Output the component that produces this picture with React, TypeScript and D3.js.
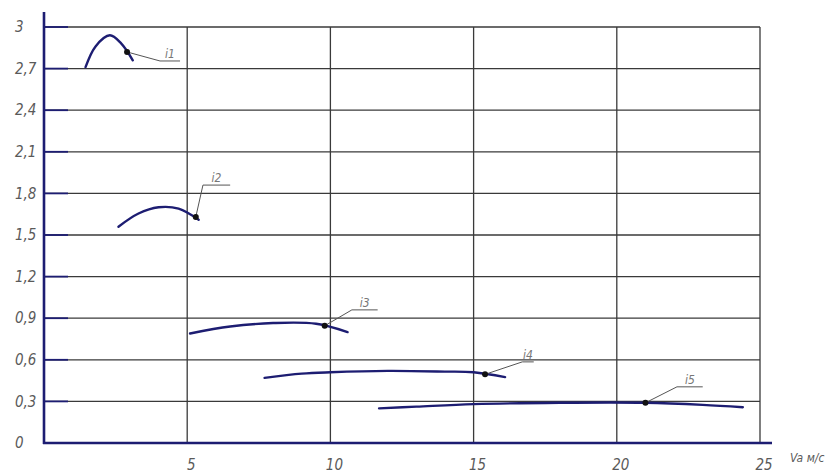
import React from 'react';
import * as d3 from 'd3';

const yTicks = [0, 0.3, 0.6, 0.9, 1.2, 1.5, 1.8, 2.1, 2.4, 2.7, 3];
const yTickLabels = ['0', '0,3', '0,6', '0,9', '1,2', '1,5', '1,8', '2,1', '2,4', '2,7', '3'];
const xTicks = [5, 10, 15, 20, 25];
const xTickLabels = ['5', '10', '15', '20', '25'];
const xAxisTitle = 'Va м/с';

// curves (V in m/s, value on y axis)
const curveNames = ['i1', 'i2', 'i3', 'i4', 'i5'];
const curveX = [
  [1.45, 1.8, 2.3, 2.7, 3.1],
  [2.6, 3.3, 4.0, 4.7, 5.4],
  [5.1, 6.5, 8.0, 9.5, 10.6],
  [7.7, 9.0, 10.0, 12.0, 14.0, 15.0, 16.1],
  [11.7, 13.0, 15.0, 18.0, 21.0, 23.0, 24.4],
];
const curveY = [
  [2.71, 2.86, 2.94, 2.88, 2.76],
  [1.56, 1.655, 1.7, 1.69, 1.61],
  [0.79, 0.84, 0.865, 0.86, 0.8],
  [0.47, 0.5, 0.51, 0.52, 0.515, 0.51, 0.475],
  [0.25, 0.262, 0.28, 0.29, 0.29, 0.275, 0.258],
];
// marker dot, leader elbow and end of the underline for each label
const dotX = [2.9, 5.3, 9.8, 15.4, 21.0];
const dotY = [2.82, 1.63, 0.845, 0.495, 0.29];
const elbowX = [4.05, 5.55, 10.75, 16.7, 22.1];
const elbowY = [2.755, 1.86, 0.96, 0.585, 0.405];
const underlineEndX = [4.75, 6.5, 11.65, 17.1, 23.0];

const W = 840;
const H = 475;
const navy = '#1d1d72';
const grid = '#3a3a3a';
const textGrey = '#5a5a5a';
const font = '"DejaVu Sans Condensed", "DejaVu Sans", sans-serif';

export default function App() {
  const x = d3.scaleLinear().domain([0, 25]).range([44, 760]);
  const y = d3.scaleLinear().domain([0, 3]).range([443, 27]);

  const lineGen = d3
    .line<[number, number]>()
    .x((d) => x(d[0]))
    .y((d) => y(d[1]))
    .curve(d3.curveCatmullRom.alpha(0.5));

  return (
    <svg
      width={W}
      height={H}
      style={{ position: 'absolute', left: 0, top: 0, background: '#fff' }}
    >
      {/* horizontal grid */}
      {yTicks.slice(1).map((t) => (
        <line key={'h' + t} x1={x(0)} x2={x(25)} y1={y(t)} y2={y(t)} stroke={grid} strokeWidth={1.3} />
      ))}
      {/* vertical grid */}
      {xTicks.map((t) => (
        <line key={'v' + t} x1={x(t)} x2={x(t)} y1={y(3)} y2={y(0)} stroke={grid} strokeWidth={1.3} />
      ))}
      {/* short heavy ticks on the y axis */}
      {yTicks.slice(1).map((t) => (
        <line key={'tk' + t} x1={x(0)} x2={x(0) + 24} y1={y(t)} y2={y(t)} stroke={navy} strokeWidth={1.8} />
      ))}

      {/* axes */}
      <line x1={x(0)} x2={x(0)} y1={12} y2={y(0) + 1} stroke={navy} strokeWidth={2.6} />
      <line x1={x(0) - 1} x2={x(25) + 12} y1={y(0)} y2={y(0)} stroke={navy} strokeWidth={2.6} />

      {/* curves */}
      {curveNames.map((name, i) => {
        const pts = curveX[i].map((v, j) => [v, curveY[i][j]] as [number, number]);
        return (
          <path
            key={name}
            d={lineGen(pts) || ''}
            fill="none"
            stroke={navy}
            strokeWidth={2.4}
            strokeLinecap="round"
          />
        );
      })}

      {/* labels with leaders */}
      {curveNames.map((name, i) => (
        <g key={'lab' + name}>
          <polyline
            points={`${x(dotX[i])},${y(dotY[i])} ${x(elbowX[i])},${y(elbowY[i])} ${x(underlineEndX[i])},${y(elbowY[i])}`}
            fill="none"
            stroke="#555"
            strokeWidth={1}
          />
          <circle cx={x(dotX[i])} cy={y(dotY[i])} r={3} fill="#111" />
          <text
            x={(x(elbowX[i]) + x(underlineEndX[i])) / 2}
            y={y(elbowY[i]) - 3}
            textAnchor="middle"
            fontFamily={font}
            fontStyle="italic"
            fontSize={12}
            fill="#777"
          >
            {name}
          </text>
        </g>
      ))}

      {/* y tick labels */}
      {yTicks.map((t, i) => (
        <text
          key={'yl' + t}
          x={15}
          y={y(t)}
          dy="0.35em"
          fontFamily={font}
          fontStyle="italic"
          fontSize={15}
          fill={textGrey}
        >
          {yTickLabels[i]}
        </text>
      ))}

      {/* x tick labels */}
      {xTicks.map((t, i) => (
        <text
          key={'xl' + t}
          x={x(t) + 4}
          y={470}
          textAnchor="middle"
          fontFamily={font}
          fontStyle="italic"
          fontSize={15}
          fill={textGrey}
        >
          {xTickLabels[i]}
        </text>
      ))}
      <text x={790} y={462} fontFamily={font} fontStyle="italic" fontSize={12} fill={textGrey}>
        {xAxisTitle}
      </text>
    </svg>
  );
}
